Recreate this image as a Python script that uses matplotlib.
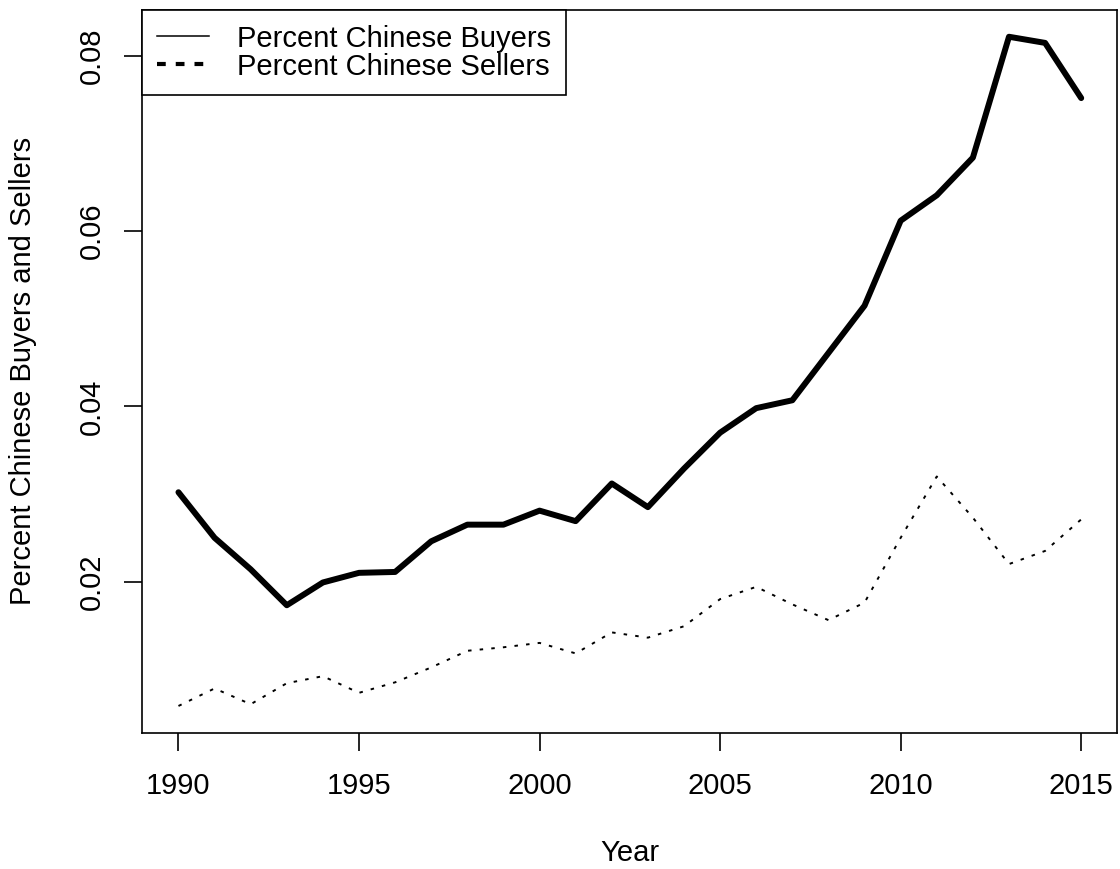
import numpy as np
import matplotlib.pyplot as plt
from matplotlib.lines import Line2D

plt.rcParams['font.family'] = ['Liberation Sans', 'DejaVu Sans']
plt.rcParams['font.size'] = 21

# yearly share of Chinese buyers / sellers
years = list(range(1990, 2016))
buyers = [0.0302, 0.0250, 0.0214, 0.0173, 0.0199, 0.0210, 0.0211, 0.0246,
          0.0265, 0.0265, 0.0281, 0.0269, 0.0312, 0.0285, 0.0329, 0.0370,
          0.0398, 0.0407, 0.0461, 0.0515, 0.0612, 0.0641, 0.0684, 0.0822,
          0.0815, 0.0752]
sellers = [0.0058, 0.0078, 0.0060, 0.0084, 0.0092, 0.0073, 0.0085, 0.0102,
           0.0121, 0.0125, 0.0130, 0.0118, 0.0142, 0.0136, 0.0149, 0.0180,
           0.0194, 0.0174, 0.0156, 0.0176, 0.0250, 0.0320, 0.0273, 0.0220,
           0.0235, 0.0271]

xticks = [1990, 1995, 2000, 2005, 2010, 2015]
yticks = [0.02, 0.04, 0.06, 0.08]
ytick_labels = ['0.02', '0.04', '0.06', '0.08']

fig = plt.figure(figsize=(11.2, 8.69), dpi=100)
ax = fig.add_axes([0.1271, 0.1568, 0.8705, 0.8317])

ax.plot(years, buyers, color='black', lw=4.3,
        solid_joinstyle='round', solid_capstyle='round')
ax.plot(years, sellers, color='black', lw=1.4, linestyle=(0, (1.8, 4.2)))

# R-style 4% padding on both axes
xlo, xhi = min(years), max(years)
xpad = 0.04 * (xhi - xlo)
ax.set_xlim(xlo - xpad, xhi + xpad)
ylo = min(min(buyers), min(sellers))
yhi = max(max(buyers), max(sellers))
ypad = 0.04 * (yhi - ylo)
ax.set_ylim(ylo - ypad, yhi + ypad)

ax.set_xticks(xticks)
ax.set_xticklabels([str(x) for x in xticks])
ax.set_yticks(yticks)
ax.set_yticklabels(ytick_labels, rotation=90, va='center')
ax.tick_params(direction='out', length=13, width=1.2, color='black')
ax.tick_params(axis='x', pad=15)
ax.tick_params(axis='y', pad=13)
for sp in ax.spines.values():
    sp.set_linewidth(1.2)

fig.text(629.8 / 1120, 1 - 853.3 / 869, 'Year', ha='center', va='center')
fig.text(23 / 1120, 1 - 371 / 869, 'Percent Chinese Buyers and Sellers',
         ha='center', va='center', rotation=90)

handles = [Line2D([], [], color='black', lw=1.1),
           Line2D([], [], color='black', lw=3, linestyle=(0, (2.1, 2.4)))]
leg = ax.legend(handles, ['Percent Chinese Buyers', 'Percent Chinese Sellers'],
                loc='upper left', bbox_to_anchor=(0, 1), borderaxespad=0,
                fancybox=False, framealpha=1, edgecolor='black',
                handlelength=1.8, handletextpad=0.95, borderpad=0.5,
                labelspacing=0.0, fontsize=21)
leg.get_frame().set_linewidth(1.2)

fig.savefig('out.png', dpi=100)
